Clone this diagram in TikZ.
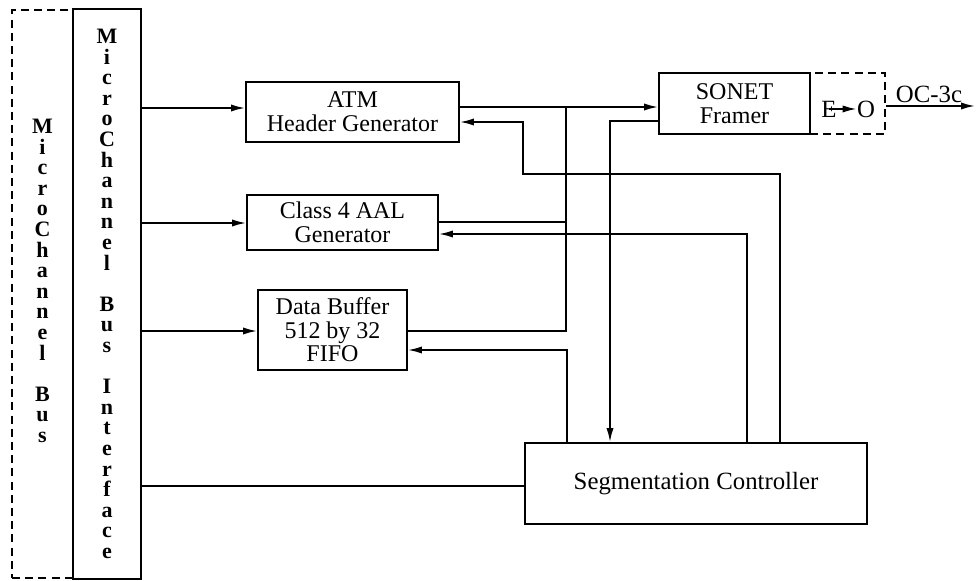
\documentclass[tikz,border=0pt]{standalone}
\usepackage{fontspec}
\setmainfont{Liberation Serif}
\usetikzlibrary{arrows.meta,positioning}
\colorlet{ink}{black}
\tikzset{
  >={Latex[length=7pt,width=3.6pt]},
  arrow/.style={-{Latex[length=7pt,width=3.6pt]}, draw=ink, line width=0.9pt},
  wire/.style={draw=ink, line width=0.9pt},
  box/.style={
    draw=ink,
    line width=0.9pt,
    inner sep=0pt,
    align=center,
    font=\fontsize{12}{11.8}\selectfont
  },
  dashbox/.style={box, dash pattern=on 4pt off 2.6pt},
  column/.style={align=center, inner sep=0pt, font=\bfseries\fontsize{11}{10.3}\selectfont},
  note/.style={inner sep=0pt, font=\fontsize{12.4}{12}\selectfont}
}

\begin{document}
\begin{tikzpicture}[x=0.5pt,y=-0.5pt]
  \useasboundingbox (0,0) rectangle (976,581);

  % bus and its interface
  \node[dashbox, minimum width=30.5pt, minimum height=284pt] (mcbus) at (42.5,294) {};
  \node[column] (mcbustext) at (42.5,281) {M\\i\\c\\r\\o\\C\\h\\a\\n\\n\\e\\l\\~\\B\\u\\s};
  \node[box, column, minimum width=34pt, minimum height=285pt] (mci) at (107,294)
    {M\\i\\c\\r\\o\\C\\h\\a\\n\\n\\e\\l\\~\\B\\u\\s\\~\\I\\n\\t\\e\\r\\f\\a\\c\\e};

  % blocks
  \node[box, minimum width=106.5pt, minimum height=30pt] (atm) at (352.5,112) {ATM\\Header Generator};
  \node[box, minimum width=95.5pt, minimum height=27.5pt] (aal) at (342.5,222.5) {Class 4 AAL\\Generator};
  \node[box, minimum width=74.5pt, minimum height=40pt] (fifo) at (332.5,330) {Data Buffer\\512 by 32\\FIFO};
  \node[box, minimum width=75.5pt, minimum height=30.5pt] (sonet) at (734.5,103.5) {SONET\\Framer};
  \node[dashbox, minimum width=37.5pt, minimum height=30.5pt] (eo) at (847.5,103.5) {};
  \node[box, font=\fontsize{12.4}{12}\selectfont, minimum width=171pt, minimum height=40.5pt] (seg) at (696,483.5) {Segmentation Controller};

  \node[note] (eIn) at (829,109) {E};
  \node[note] (oOut) at (866,109) {O};
  \node[note] (oclabel) at (929,94) {OC-3c};
  \coordinate (oc3c) at (975,106);
  \coordinate (busTop) at (566,107);

  % interface to blocks
  \draw[arrow] (mci.east |- 0,108) -- (atm.west |- 0,108);
  \draw[arrow] (mci.east |- 0,223) -- (aal.west |- 0,223);
  \draw[arrow] (mci.east |- 0,331) -- (fifo.west |- 0,331);
  \draw[wire] (mci.east |- 0,486) -- (seg.west |- 0,486);

  % data path to the framer
  \draw[arrow] (atm.east |- busTop) -- (sonet.west |- busTop);
  \draw[wire] (aal.east |- 0,222) -- (busTop |- 0,222);
  \draw[wire] (fifo.east |- 0,331) -| (busTop);
  \draw[arrow] (eIn.center) -- (oOut.west);
  \draw[arrow] (eo.east |- oc3c) -- (oc3c);

  % controller lines
  \draw[arrow] (seg.north -| 567,0) |- (fifo.east |- 0,350);
  \draw[arrow] (seg.north -| 747,0) |- (aal.east |- 0,234);
  \draw[arrow] (seg.north -| 780,0) |- (523,174) |- (atm.east |- 0,122);
  \draw[arrow] (sonet.west |- 0,121) -| (seg.north -| 610,0);
\end{tikzpicture}
\end{document}
